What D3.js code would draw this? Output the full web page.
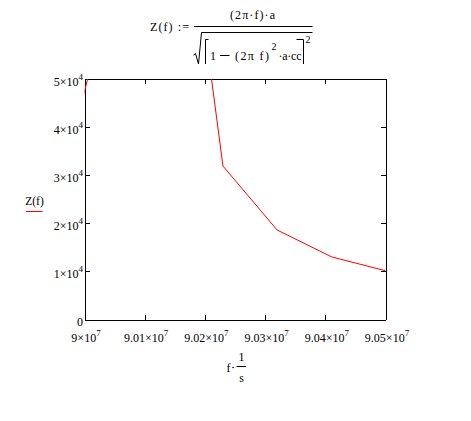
<!DOCTYPE html>
<html>
<head>
<meta charset="utf-8">
<script src="https://cdn.jsdelivr.net/npm/d3@7"></script>
<style>
  html, body { margin: 0; padding: 0; background: #fff; }
  svg { display: block; }
  text { font-family: "Liberation Serif", "Times New Roman", serif; fill: #000; }
</style>
</head>
<body>
<svg id="chart" width="471" height="421"></svg>
<script>
// ---- data ----
const freq = [8.9959e7, 9.0049e7, 9.0140e7, 9.0230e7, 9.0320e7, 9.0411e7, 9.0501e7];
const zValues = [27400, 71400, 117600, 31900, 18600, 13000, 10100];
const xTicks = [9.00e7, 9.01e7, 9.02e7, 9.03e7, 9.04e7, 9.05e7];
const xTickMant = ["9", "9.01", "9.02", "9.03", "9.04", "9.05"];
const xTickExp = ["7", "7", "7", "7", "7", "7"];
const yTicks = [0, 1e4, 2e4, 3e4, 4e4, 5e4];
const yTickMant = ["0", "1", "2", "3", "4", "5"];
const yTickExp = ["", "4", "4", "4", "4", "4"];

const svg = d3.select("#chart");
const L = 84.5, R = 385.5, T = 79, B = 319.5;

const x = d3.scaleLinear().domain([9.0e7, 9.05e7]).range([L, R]);
const y = d3.scaleLinear().domain([0, 5e4]).range([B, T]);

// clip
svg.append("defs").append("clipPath").attr("id", "plotclip")
  .append("rect").attr("x", L).attr("y", T).attr("width", R - L).attr("height", B - T);

// axes (ticks inward on all four sides)
const axB = d3.axisBottom(x).tickValues(xTicks).tickSizeInner(-5).tickSizeOuter(0).tickFormat("");
const axT = d3.axisTop(x).tickValues(xTicks).tickSizeInner(-5).tickSizeOuter(0).tickFormat("");
const axLf = d3.axisLeft(y).tickValues(yTicks).tickSizeInner(-5).tickSizeOuter(0).tickFormat("");
const axRt = d3.axisRight(y).tickValues(yTicks).tickSizeInner(-5).tickSizeOuter(0).tickFormat("");
function styleAxis(g) {
  g.selectAll("path, line").attr("stroke", "#000").attr("stroke-width", 1).attr("shape-rendering", "crispEdges");
}
svg.append("g").attr("transform", `translate(0,${B})`).call(axB).call(styleAxis);
svg.append("g").attr("transform", `translate(0,${T})`).call(axT).call(styleAxis);
svg.append("g").attr("transform", `translate(${L},0)`).call(axLf).call(styleAxis);
svg.append("g").attr("transform", `translate(${R},0)`).call(axRt).call(styleAxis);

// data line
const line = d3.line().x((d, i) => x(freq[i])).y(d => y(d));
svg.append("path")
  .datum(zValues)
  .attr("clip-path", "url(#plotclip)")
  .attr("fill", "none")
  .attr("stroke", "#ff0000")
  .attr("stroke-width", 1)
  .attr("d", line);

// x tick labels
xTicks.forEach((v, i) => {
  const t = svg.append("text")
    .attr("x", x(v) + 1.5).attr("y", 341.5)
    .attr("text-anchor", "middle")
    .attr("font-size", 12);
  t.append("tspan").text(xTickMant[i] + "×10");
  t.append("tspan").attr("font-size", 9).attr("dy", -6).text(xTickExp[i]);
});

// y tick labels
yTicks.forEach((v, i) => {
  const t = svg.append("text")
    .attr("x", 83).attr("y", y(v) + 6.5)
    .attr("text-anchor", "end")
    .attr("font-size", 12);
  if (yTickExp[i] === "") {
    t.text(yTickMant[i]);
  } else {
    t.append("tspan").text(yTickMant[i] + "×10");
    t.append("tspan").attr("font-size", 9).attr("dy", -6).text(yTickExp[i]);
  }
});

// y axis label with legend underline
svg.append("text").attr("x", 34.5).attr("y", 205).attr("text-anchor", "middle")
  .attr("font-size", 11.5).text("Z(f)");
svg.append("line").attr("x1", 26).attr("x2", 42.5).attr("y1", 211.5).attr("y2", 211.5)
  .attr("stroke", "#ff0000").attr("stroke-width", 1);

// x axis label  f·(1/s)
svg.append("text").attr("x", 226.5).attr("y", 371.5).attr("font-size", 12).text("f");
svg.append("circle").attr("cx", 233).attr("cy", 367.5).attr("r", 0.8).attr("fill", "#000");
svg.append("line").attr("x1", 236.5).attr("x2", 246).attr("y1", 366.5).attr("y2", 366.5)
  .attr("stroke", "#000").attr("stroke-width", 1);
svg.append("text").attr("x", 241.5).attr("y", 361).attr("text-anchor", "middle").attr("font-size", 12).text("1");
svg.append("text").attr("x", 241.5).attr("y", 381.5).attr("text-anchor", "middle").attr("font-size", 12).text("s");

// title formula
svg.append("text").attr("x", 150).attr("y", 30.7).attr("font-size", 12)
  .attr("textLength", 39).attr("lengthAdjust", "spacing").text("Z(f) :=");
svg.append("text").attr("x", 230).attr("y", 18.5).attr("font-size", 12)
  .attr("textLength", 45).attr("lengthAdjust", "spacing").text("(2π·f)·a");
svg.append("line").attr("x1", 194).attr("x2", 312.5).attr("y1", 26.5).attr("y2", 26.5)
  .attr("stroke", "#000").attr("stroke-width", 1);
// radical
svg.append("path").attr("fill", "none").attr("stroke", "#000").attr("stroke-width", 1)
  .attr("d", "M193.5,55 L195.5,53.5 L198.5,64 L201.5,32.5 L312.5,32.5");
// brackets
svg.append("path").attr("fill", "none").attr("stroke", "#000").attr("stroke-width", 1)
  .attr("d", "M208.5,39.5 L205.5,39.5 L205.5,64 M296.5,39.5 L303.5,39.5 L303.5,64");
// outer exponent
svg.append("text").attr("x", 305.5).attr("y", 43).attr("font-size", 10).text("2");
// denominator text
svg.append("text").attr("x", 210).attr("y", 59.5).attr("font-size", 12).text("1");
svg.append("line").attr("x1", 220).attr("x2", 229.5).attr("y1", 55.5).attr("y2", 55.5)
  .attr("stroke", "#000").attr("stroke-width", 1);
svg.append("text").attr("x", 235).attr("y", 59.5).attr("font-size", 12)
  .attr("textLength", 34).attr("lengthAdjust", "spacing").text("(2π f)");
svg.append("text").attr("x", 271.5).attr("y", 49.5).attr("font-size", 10).text("2");
svg.append("text").attr("x", 278.5).attr("y", 59.5).attr("font-size", 12)
  .attr("textLength", 23).attr("lengthAdjust", "spacing").text("·a·cc");
</script>
</body>
</html>
